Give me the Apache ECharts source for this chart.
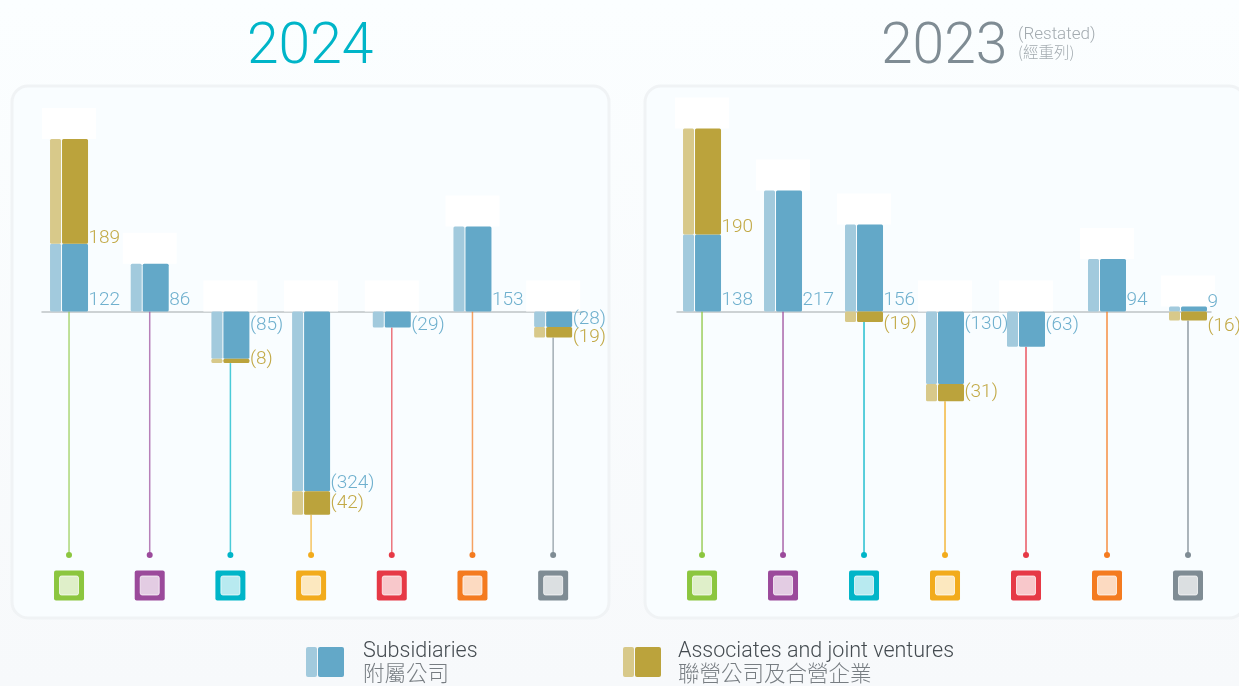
<!DOCTYPE html>
<html>
<head>
<meta charset="utf-8">
<style>
  html, body { margin: 0; padding: 0; }
  #chart { width: 1239px; height: 686px; }
</style>
</head>
<body>
<div id="chart"></div>
<script src="https://cdn.jsdelivr.net/npm/echarts@6/dist/echarts.min.js"></script>
<script>
const subsidiaries2024 = [122, 86, -85, -324, -29, 153, -28]
const associates2024 = [189, null, -8, -42, null, null, -19]
const subsidiaries2023 = [138, 217, 156, -130, -63, 94, 9]
const associates2023 = [190, null, -19, -31, null, null, -16]
const segmentColors = ['#8cc63f', '#9b4a9b', '#00b5c8', '#f2ab1c', '#e63946', '#f47b20', '#7f8c94']

// label offsets from the start of each bar, the source places them by hand
const subLabelDy2024 = [-11, -11, 14, 172, 14, -11, 8]
const assocLabelDy2024 = [-6, 0, 1, 12, 0, 0, 10]
const subLabelDy2023 = [-11, -11, -11, 13, 14, -11, -9]
const assocLabelDy2023 = [-7, 0, 13, 8, 0, 0, 15]

const FONT = '300 19px Roboto, "Noto Sans CJK TC", sans-serif'
const LEGEND_FONT = '300 21.5px Roboto, "Noto Sans CJK TC", sans-serif'
const BLUE = { light: '#a2cadd', dark: '#63a8c8', text: '#6fb0ce' }
const GOLD = { light: '#d8c98a', dark: '#bba33c', text: '#c2a946' }
// pixel rows of the dots and colour keys, the same in both panels
const DOT_Y = 555
const ICON_Y = 585.5

const fmt = v => (v < 0 ? `(${-v})` : `${v}`)

// one bar split in a light and a dark strip
const barParts = (x, y0, y1, c) => {
  const top = Math.min(y0, y1)
  const h = Math.abs(y1 - y0)
  return [
    { type: 'rect', shape: { x: x - 19, y: top, width: 11, height: h, r: 1.5 }, style: { fill: c.light } },
    { type: 'rect', shape: { x: x - 7, y: top, width: 26, height: h, r: 1.5 }, style: { fill: c.dark } }
  ]
}

const labelPart = (x, y, v, c) => ({
  type: 'text',
  style: { x: x + 19.5, y, text: fmt(v), fill: c.text, font: FONT, textVerticalAlign: 'middle' }
})

const makeSeries = (idx, subs, assocs, subDy, assocDy, lineOpacity) => {
  const rows = subs.map((v, i) => [i, v, assocs[i] === null ? 0 : assocs[i], subDy[i], assocDy[i]])
  return [
    {
      // white patch, connector, dot and colour key of each segment
      type: 'custom',
      xAxisIndex: idx,
      yAxisIndex: idx,
      clip: false,
      z: 2,
      data: rows,
      renderItem: (params, api) => {
        const i = api.value(0)
        const s = api.value(1)
        const a = api.value(2)
        const x = api.coord([i, 0])[0]
        const topV = Math.max(0, s) + Math.max(0, a)
        const lowV = Math.min(0, s) + Math.min(0, a)
        const topY = api.coord([i, topV])[1]
        const lowY = api.coord([i, lowV])[1]
        const color = segmentColors[i]
        return {
          type: 'group',
          children: [
            { type: 'rect', shape: { x: x - 27, y: topY - 31, width: 54, height: 31 }, style: { fill: '#ffffff' } },
            { type: 'line', shape: { x1: x, y1: lowY, x2: x, y2: DOT_Y }, style: { stroke: color, lineWidth: 1.5, opacity: lineOpacity } },
            { type: 'circle', shape: { cx: x, cy: DOT_Y, r: 3 }, style: { fill: color } },
            { type: 'rect', shape: { x: x - 15, y: ICON_Y - 15, width: 30, height: 30, r: 2 }, style: { fill: color } },
            { type: 'rect', shape: { x: x - 9.5, y: ICON_Y - 9.5, width: 19, height: 19, r: 2 }, style: { fill: '#ffffff', opacity: 0.72, stroke: '#ffffff', lineWidth: 1 } }
          ]
        }
      }
    },
    {
      type: 'custom',
      xAxisIndex: idx,
      yAxisIndex: idx,
      clip: false,
      z: 3,
      data: rows,
      renderItem: (params, api) => {
        const i = api.value(0)
        const s = api.value(1)
        const a = api.value(2)
        const x = api.coord([i, 0])[0]
        const zeroY = api.coord([i, 0])[1]
        const subY = api.coord([i, s])[1]
        // associates stack on the subsidiaries only when they have the same sign
        const base = s * a > 0 ? s : 0
        const baseY = api.coord([i, base])[1]
        const endY = api.coord([i, base + a])[1]
        const children = [...barParts(x, zeroY, subY, BLUE), labelPart(x, zeroY + api.value(3), s, BLUE)]
        if (a !== 0) {
          children.push(...barParts(x, baseY, endY, GOLD), labelPart(x, baseY + api.value(4), a, GOLD))
        }
        return { type: 'group', children }
      }
    }
  ]
}

const makeXAxis = (gridIndex, min, max) => ({
  type: 'value',
  gridIndex,
  min,
  max,
  axisLine: { show: true, onZero: true, lineStyle: { color: '#bfc3c6', width: 1.5 } },
  axisTick: { show: false },
  axisLabel: { show: false },
  splitLine: { show: false }
})

const makeYAxis = gridIndex => ({
  type: 'value',
  gridIndex,
  min: -500,
  max: 400,
  show: false,
  splitLine: { show: false }
})

const panel = (x, width) => ({
  type: 'rect',
  z: 0,
  shape: { x, y: 86, width, height: 532, r: 16 },
  style: { fill: '#f9fdff', stroke: '#f0f3f5', lineWidth: 3 }
})

const legendItem = (x, textX, c, en, zh) => [
  { type: 'rect', shape: { x, y: 647, width: 11, height: 30, r: 2 }, style: { fill: c.light } },
  { type: 'rect', shape: { x: x + 12, y: 647, width: 26, height: 30, r: 2 }, style: { fill: c.dark } },
  { type: 'text', style: { x: textX, y: 652, text: en, fill: '#444b50', font: LEGEND_FONT, textVerticalAlign: 'middle' } },
  { type: 'text', style: { x: textX, y: 676, text: zh, fill: '#777d82', font: LEGEND_FONT, textVerticalAlign: 'middle' } }
]

const chart = echarts.init(document.getElementById('chart'))
chart.setOption({
  animation: false,
  backgroundColor: {
    type: 'linear', x: 0, y: 0, x2: 0, y2: 1,
    colorStops: [{ offset: 0, color: '#fbfeff' }, { offset: 1, color: '#f7f9fb' }]
  },
  title: [
    { text: '2024', left: 247, top: 20, padding: 0, textStyle: { color: '#00b5c8', fontSize: 57, fontWeight: 300, fontFamily: 'Roboto' } },
    { text: '2023', left: 881, top: 20, padding: 0, textStyle: { color: '#7f8c94', fontSize: 57, fontWeight: 300, fontFamily: 'Roboto' } },
    { text: '(Restated)', left: 1018, top: 26, padding: 0, textStyle: { color: '#a3abb0', fontSize: 17, fontWeight: 300, fontFamily: 'Roboto' } },
    { text: '(經重列)', left: 1018, top: 44, padding: 0, textStyle: { color: '#a3abb0', fontSize: 15.5, fontWeight: 300, fontFamily: 'Noto Sans CJK TC' } }
  ],
  graphic: [panel(12, 597), panel(645, 600), ...legendItem(306, 363, BLUE, 'Subsidiaries', '附屬公司'), ...legendItem(623, 678, GOLD, 'Associates and joint ventures', '聯營公司及合營企業')],
  grid: [
    { left: 42, width: 541, top: 89.5, height: 499.5 },
    { left: 677, width: 534, top: 88.3, height: 502.2 }
  ],
  xAxis: [makeXAxis(0, -0.335, 6.37), makeXAxis(1, -0.309, 6.284)],
  yAxis: [makeYAxis(0), makeYAxis(1)],
  series: [
    ...makeSeries(0, subsidiaries2024, associates2024, subLabelDy2024, assocLabelDy2024, 0.7),
    ...makeSeries(1, subsidiaries2023, associates2023, subLabelDy2023, assocLabelDy2023, 0.85)
  ]
})
</script>
</body>
</html>
